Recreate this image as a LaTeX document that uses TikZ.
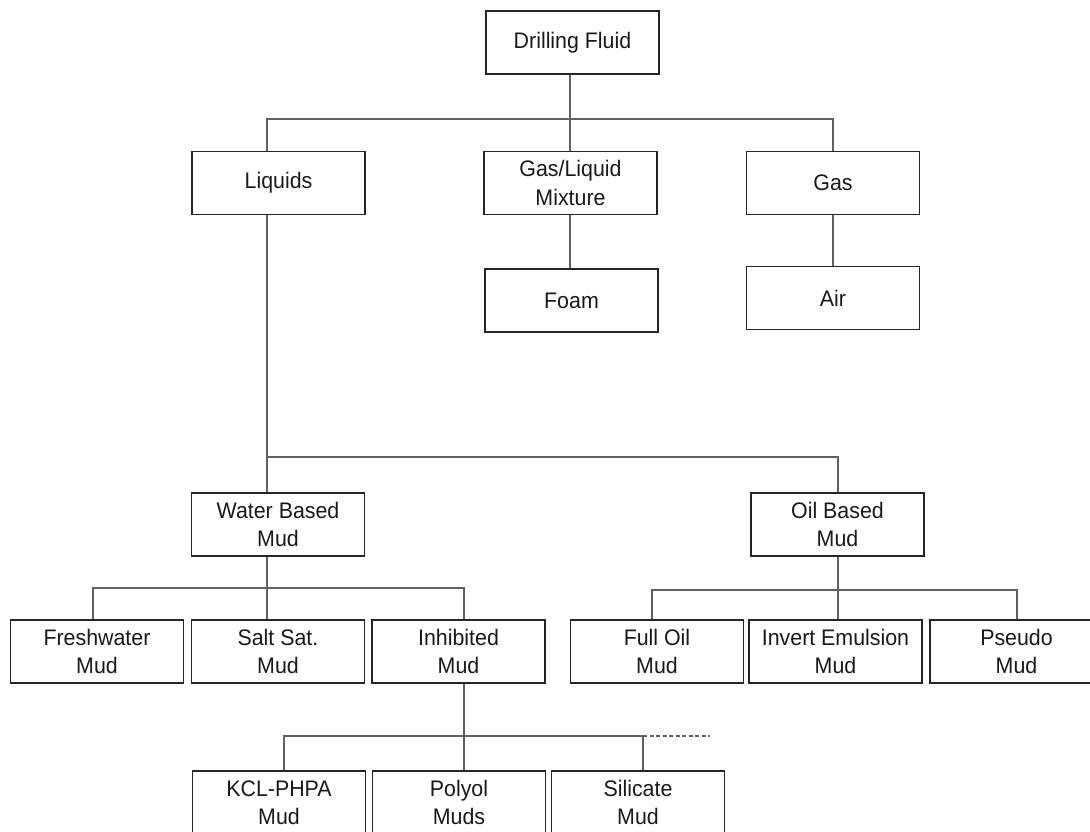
\documentclass[tikz,border=0pt]{standalone}
\usepackage{fontspec}
\newfontfamily\lab[FakeStretch=0.95]{Liberation Sans}
\begin{document}
\begin{tikzpicture}[x=1pt,y=-1pt,
  box/.style={draw=black!85, line width=1.5pt, minimum width=173pt, minimum height=63pt,
    inner sep=0pt, align=center, text=black!90, font=\lab\fontsize{22.5}{28.5}\selectfont},
  conn/.style={draw=black!62, line width=1.5pt}]
\useasboundingbox (0,0) rectangle (1090,832);
% nodes
\node[box] (df) at (572.5,42.5) {Drilling Fluid};
\node[box] (liq) at (278.5,183) {Liquids};
\node[box] (glm) at (570.5,183) {Gas/Liquid\\Mixture};
\node[box] (gas) at (833,183) {Gas};
\node[box] (foam) at (571.5,300.5) {Foam};
\node[box] (air) at (833,298) {Air};
\node[box] (wbm) at (278,524.5) {Water Based\\Mud};
\node[box] (obm) at (837.5,524.5) {Oil Based\\Mud};
\node[box] (fresh) at (97,651.5) {Freshwater\\Mud};
\node[box] (salt) at (278,651.5) {Salt Sat.\\Mud};
\node[box] (inh) at (458.5,651.5) {Inhibited\\Mud};
\node[box] (full) at (657,651.5) {Full Oil\\Mud};
\node[box] (inv) at (835.5,651.5) {Invert Emulsion\\Mud};
\node[box] (pseudo) at (1016.5,651.5) {Pseudo\\Mud};
\node[box] (kcl) at (279,802.5) {KCL-PHPA\\Mud};
\node[box] (polyol) at (459,802.5) {Polyol\\Muds};
\node[box] (sil) at (638,802.5) {Silicate\\Mud};
% junction coordinates
\coordinate (j1) at (570,119);
\coordinate (xl) at (267,0);
\coordinate (j2) at (267,457);
\coordinate (j3) at (267,588);
\coordinate (j4) at (838,590);
\coordinate (j5) at (464,736);
\coordinate (j6) at (643,736);
\coordinate (dend) at (710,736);
% top level
\draw[conn] (df.south -| j1) -- (glm.north -| j1);
\draw[conn] (liq.north -| xl) |- (j1) -| (gas.north);
\draw[conn] (glm.south -| j1) -- (foam.north -| j1);
\draw[conn] (gas.south) -- (air.north);
% liquids
\draw[conn] (liq.south -| xl) -- (wbm.north -| xl);
\draw[conn] (j2) -| (obm.north -| j4);
% water based
\draw[conn] (wbm.south -| xl) -- (salt.north -| xl);
\draw[conn] (fresh.north -| 93,0) |- (j3) -| (inh.north -| j5);
% oil based
\draw[conn] (obm.south -| j4) -- (inv.north -| j4);
\draw[conn] (full.north -| 652,0) |- (j4) -| (pseudo.north -| 1017,0);
% inhibited
\draw[conn] (inh.south -| j5) -- (polyol.north -| j5);
\draw[conn] (kcl.north -| 284,0) |- (j6) -- (sil.north -| j6);
\draw[conn, dash pattern=on 4pt off 2.5pt, line width=1.2pt] (j6) -- (dend);
\end{tikzpicture}
\end{document}
